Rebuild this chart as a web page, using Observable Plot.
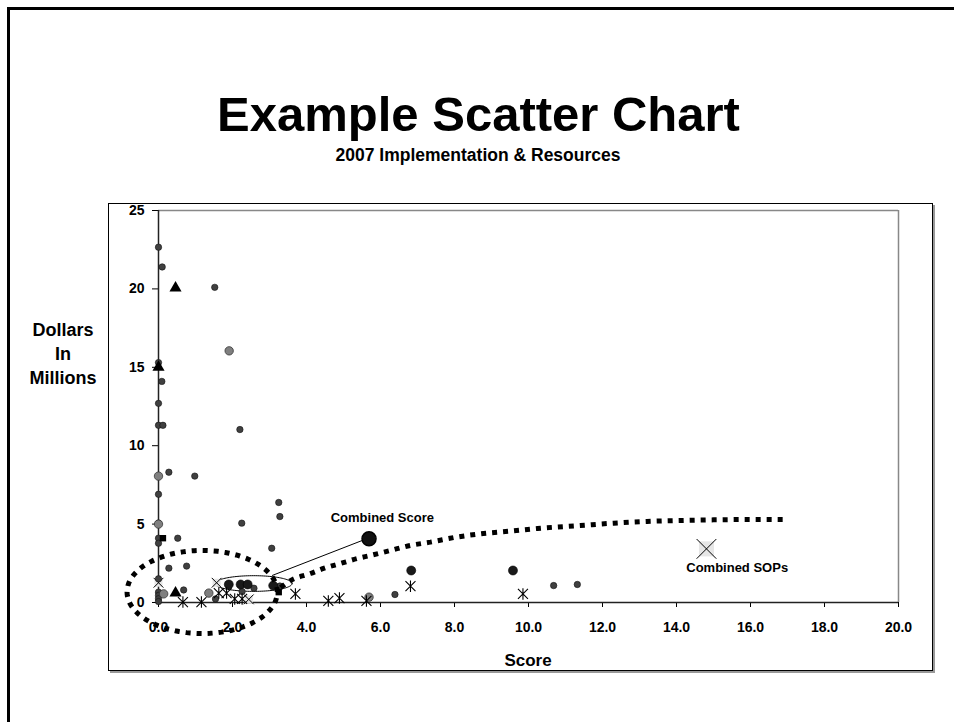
<!DOCTYPE html>
<html>
<head>
<meta charset="utf-8">
<script src="https://cdn.jsdelivr.net/npm/d3@7"></script>
<script src="https://cdn.jsdelivr.net/npm/@observablehq/plot@0.6"></script>
<style>
  html, body { margin: 0; padding: 0; background: #fff; overflow: hidden; }
  body { width: 954px; height: 722px; position: relative;
         font-family: "Liberation Sans", Arial, sans-serif; font-weight: bold; color: #000; }
  #chart { position: absolute; left: 0; top: 0; width: 954px; height: 722px; overflow: hidden; }
  .abs { position: absolute; white-space: nowrap; }
  #title { left: 0; width: 957px; text-align: center; top: 90px; font-size: 49px; line-height: 49px; }
  #subtitle { left: 0; width: 956px; text-align: center; top: 146px; font-size: 17.5px; line-height: 18px; }
  #ylabel { left: 13px; width: 100px; text-align: center; top: 318px; font-size: 18px; line-height: 24px; }
  #xlabel { left: 428px; width: 200px; text-align: center; top: 651px; font-size: 17px; line-height: 20px; }
  #frameTop { position: absolute; left: 7px; top: 7px; width: 947px; height: 3px; background: #000; }
  #frameLeft { position: absolute; left: 7px; top: 7px; width: 3px; height: 715px; background: #000; }
  #box { position: absolute; left: 108px; top: 203px; width: 823px; height: 466px;
         border: 1.5px solid #000; box-shadow: 2px 2px 0 #999; pointer-events: none; }
</style>
</head>
<body>
<div id="chart"></div>
<div id="frameTop"></div>
<div id="frameLeft"></div>
<div id="box"></div>
<div id="title" class="abs">Example Scatter Chart</div>
<div id="subtitle" class="abs">2007 Implementation &amp; Resources</div>
<div id="ylabel" class="abs">Dollars<br>In<br>Millions</div>
<div id="xlabel" class="abs">Score</div>
<script>
// ---- tick labels ----
const xTicks = [0, 2, 4, 6, 8, 10, 12, 14, 16, 18, 20];
const yTicks = [0, 5, 10, 15, 20, 25];

// ---- series: small dark dots ----
const smallX = [0, 0.1, 1.52, 0, 0.09, 0, 0, 0.12, 2.2, 0.28, 0.98, 0, 3.25, 3.28, 2.25, 0, 0, 0.52, 0, 3.06, 0.28, 0.76, 0, 0, 0, 0, 0, 0.68, 1.54, 2.58, 2.26, 3.28, 6.39, 10.68, 11.32];
const smallY = [22.66, 21.4, 20.1, 15.3, 14.1, 12.7, 11.3, 11.3, 11.03, 8.31, 8.06, 6.9, 6.38, 5.48, 5.06, 5.06, 4.1, 4.1, 3.78, 3.46, 2.19, 2.32, 1.51, 0.66, 0.45, 0.24, 0.06, 0.8, 0.23, 0.91, 0.7, 1.05, 0.51, 1.08, 1.15];

// ---- series: mid grey dots ----
const greyX = [1.91, 0, 0, 0.14, 1.36, 5.69];
const greyY = [16.05, 8.06, 5.0, 0.55, 0.6, 0.34];

// ---- series: large black dots ----
const bigX = [1.9, 2.22, 2.41, 3.1, 6.83, 9.58];
const bigY = [1.15, 1.15, 1.15, 1.08, 2.04, 2.04];

// ---- series: triangles ----
const triX = [0.46, 0, 0.46];
const triY = [20.05, 15.0, 0.6];

// ---- series: squares ----
const sqX = [0.12, 3.25];
const sqY = [4.1, 0.66];

// ---- series: stars ----
const starX = [0.66, 1.16, 1.63, 1.84, 2.06, 2.26, 3.7, 4.59, 4.89, 5.62, 6.81, 9.85];
const starY = [0.03, 0.03, 0.6, 0.6, 0.23, 0.23, 0.55, 0.1, 0.28, 0.1, 1.04, 0.55];

// ---- series: small x marks ----
const timesX = [0, 1.57, 2.44];
const timesY = [1.26, 1.26, 0.2];

// ---- combined points ----
const combinedScore = {x: 5.69, y: 4.06, label: "Combined Score", lx: 6.05, ly: 5.4};
const combinedSOPs = {x: 14.81, y: 3.42, label: "Combined SOPs", lx: 15.64, ly: 2.19};

// ---- trend curve (dotted) ----
const trendX = [3.3, 3.57, 4.11, 4.46, 4.92, 5.38, 5.73, 6.27, 6.81, 7.35, 8.08, 8.78, 9.51, 10.24, 11.4, 12.3, 13.2, 14.1, 15.0, 15.9, 17.0];
const trendY = [0.95, 1.40, 1.85, 2.17, 2.49, 2.81, 3.0, 3.32, 3.64, 3.85, 4.18, 4.40, 4.55, 4.72, 4.91, 5.06, 5.17, 5.23, 5.27, 5.29, 5.29];

// ---- annotation ovals (center / radii in data units) ----
const bigOval = {cx: 1.18, cy: 0.67, rx: 2.03, ry: 2.65};
const smallOval = {cx: 2.57, cy: 1.21, rx: 1.04, ry: 0.5};
const callout = {x1: 3.07, y1: 1.72, x2: 5.5, y2: 3.95};

const zip = (xs, ys) => xs.map((x, i) => ({x, y: ys[i]}));
const ovalPts = (o) => d3.range(0, 361, 3).map(a => ({
  x: o.cx + o.rx * Math.cos(a * Math.PI / 180),
  y: o.cy + o.ry * Math.sin(a * Math.PI / 180)
}));

const starSymbol = {
  draw(ctx, size) {
    const r = Math.sqrt(size / Math.PI);
    ctx.moveTo(-r, -r); ctx.lineTo(r, r);
    ctx.moveTo(-r, r); ctx.lineTo(r, -r);
    ctx.moveTo(0, -r * 1.15); ctx.lineTo(0, r * 1.15);
  }
};

const chart = Plot.plot({
  width: 954,
  height: 722,
  marginLeft: 158,
  marginRight: 56,
  marginTop: 210,
  marginBottom: 120,
  style: {fontFamily: "Liberation Sans, Arial, sans-serif", fontWeight: "bold", fontSize: "14px", background: "transparent", overflow: "visible"},
  x: {domain: [0, 20]},
  y: {domain: [0, 25]},
  marks: [
    Plot.ruleY([25], {stroke: "#888", strokeWidth: 1.5}),
    Plot.ruleX([20], {stroke: "#888", strokeWidth: 1.5}),
    Plot.axisX({ticks: xTicks, tickFormat: d3.format(".1f"), tickSize: 5, tickPadding: 15, label: null, fill: "#000", stroke: "#000"}),
    Plot.axisY({ticks: yTicks, tickFormat: d3.format("d"), tickSize: 6, tickPadding: 8, label: null, fill: "#000", stroke: "#000"}),
    Plot.ruleX([0], {stroke: "#222", strokeWidth: 1.5}),
    Plot.ruleY([0], {stroke: "#222", strokeWidth: 1.5}),
    // thin oval and callout
    Plot.line(ovalPts(smallOval), {x: "x", y: "y", stroke: "#000", strokeWidth: 1}),
    Plot.link([callout], {x1: "x1", y1: "y1", x2: "x2", y2: "y2", stroke: "#000", strokeWidth: 1}),
    // series
    Plot.dot(zip(timesX, timesY), {x: "x", y: "y", symbol: "square", r: 4.5, fill: "#e4e4e4", stroke: "none"}),
    Plot.dot(zip(timesX, timesY), {x: "x", y: "y", symbol: "times", r: 4.5, stroke: "#000", strokeWidth: 1}),
    Plot.dot(zip(smallX, smallY), {x: "x", y: "y", r: 3.2, fill: "#404040", stroke: "#111", strokeWidth: 0.6}),
    Plot.dot(zip(greyX, greyY), {x: "x", y: "y", r: 4.2, fill: "#7f7f7f", stroke: "#333", strokeWidth: 0.8}),
    Plot.dot(zip(bigX, bigY), {x: "x", y: "y", r: 4.5, fill: "#1a1a1a", stroke: "#000", strokeWidth: 0.6}),
    Plot.dot(zip(triX, triY), {x: "x", y: "y", symbol: "triangle", r: 4.5, fill: "#000", stroke: "none"}),
    Plot.dot(zip(sqX, sqY), {x: "x", y: "y", symbol: "square", r: 3.6, fill: "#000", stroke: "none"}),
    Plot.dot(zip(starX, starY), {x: "x", y: "y", symbol: starSymbol, r: 5, fill: "none", stroke: "#000", strokeWidth: 1.1}),
    // combined points
    Plot.dot([combinedScore], {x: "x", y: "y", r: 7, fill: "#111", stroke: "#000"}),
    Plot.dot([combinedSOPs], {x: "x", y: "y", symbol: "square", r: 8.5, fill: "#e6e6e6", stroke: "none"}),
    Plot.dot([combinedSOPs], {x: "x", y: "y", symbol: "times", r: 9, stroke: "#000", strokeWidth: 1}),
    Plot.text([combinedScore, combinedSOPs], {x: "lx", y: "ly", text: "label", fontSize: 13, fontWeight: "bold", fill: "#000"}),
    // dotted annotations
    Plot.line(zip(trendX, trendY), {x: "x", y: "y", curve: "monotone-x", stroke: "#000", strokeWidth: 5, strokeDasharray: "5,6", strokeLinecap: "butt", strokeLinejoin: "miter"}),
    Plot.line(ovalPts(bigOval), {x: "x", y: "y", stroke: "#000", strokeWidth: 5, strokeDasharray: "5,6", strokeLinecap: "butt", strokeLinejoin: "miter"})
  ]
});
document.getElementById("chart").appendChild(chart);
</script>
</body>
</html>
